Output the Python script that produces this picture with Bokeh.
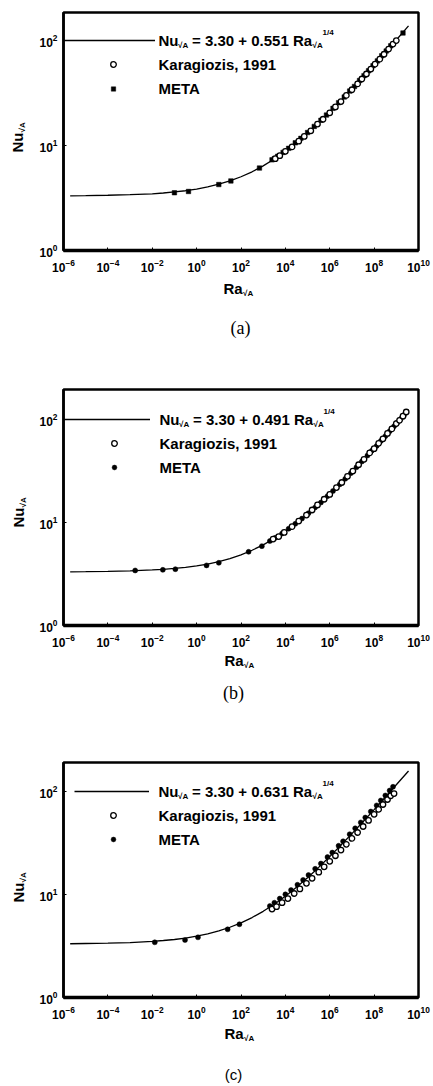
import math
from bokeh.plotting import figure
from bokeh.models import Range1d, FixedTicker, LogTickFormatter, Label, Legend, LegendItem
from bokeh.core.properties import value
from bokeh.layouts import column
from bokeh.embed import file_html
from bokeh.resources import INLINE

# ---------------- data ----------------
ra_ticks = [1e-6, 1e-4, 1e-2, 1e0, 1e2, 1e4, 1e6, 1e8, 1e10]
nu_ticks = [1, 10, 100]

curve_ra = [2e-6, 1e-5, 1e-4, 1e-3, 1e-2, 3.16e-2, 1e-1, 3.16e-1, 1.0, 3.16, 10, 31.6, 100, 316,
            1e3, 3.16e3, 1e4, 3.16e4, 1e5, 3.16e5, 1e6, 3.16e6, 1e7, 3.16e7, 1e8, 3.16e8, 1e9, 3.55e9]

# panel (a)  Nu = 3.30 + 0.551 Ra^1/4
a_curve_nu = [3.32, 3.33, 3.36, 3.40, 3.47, 3.53, 3.61, 3.71, 3.85, 4.04, 4.28, 4.61, 5.04, 5.62,
              6.40, 7.43, 8.81, 10.65, 13.10, 16.36, 20.72, 26.54, 34.28, 44.62, 58.40, 76.80, 101.3, 137.8]
a_kara_ra = [3.5e3, 5.6e3, 1.0e4, 2.0e4, 4.0e4, 7.1e4, 1.4e5, 2.8e5, 5.0e5, 1.0e6, 1.8e6, 3.2e6,
             5.6e6, 1.0e7, 1.8e7, 2.8e7, 4.5e7, 7.1e7, 1.1e8, 1.8e8, 2.8e8, 4.5e8, 7.1e8, 1.0e9]
a_kara_nu = [7.5, 8.0, 8.8, 9.7, 11.0, 12.2, 13.8, 16.0, 17.8, 20.5, 23.3, 26.2,
             30.0, 34.0, 38.6, 43.0, 48.0, 53.5, 59.5, 66.5, 74.0, 83.0, 92.5, 100.0]
a_meta_ra = [0.1, 0.43, 10, 35, 680,
             2.5e3, 3.2e3, 4.5e3, 7.9e3, 1.4e4, 2.8e4, 5.0e4, 1.0e5, 2.0e5, 4.0e5, 7.1e5, 1.4e6,
             2.5e6, 4.5e6, 7.9e6, 1.3e7, 2.2e7, 3.5e7, 5.6e7, 8.9e7, 1.4e8, 2.2e8, 3.5e8, 5.6e8, 2.0e9]
a_meta_nu = [3.55, 3.65, 4.25, 4.6, 6.1,
             7.3, 7.5, 7.9, 8.6, 9.4, 10.6, 11.7, 13.3, 15.2, 17.4, 19.5, 22.6,
             25.6, 29.0, 33.0, 36.5, 41.6, 46.3, 51.5, 57.5, 64.0, 71.5, 79.5, 89.0, 118.0]

# panel (b)  Nu = 3.30 + 0.491 Ra^1/4
b_curve_nu = [3.32, 3.33, 3.35, 3.39, 3.46, 3.51, 3.58, 3.67, 3.79, 3.95, 4.17, 4.46, 4.85, 5.37,
              6.06, 6.98, 8.21, 9.85, 12.03, 14.94, 18.83, 24.01, 30.91, 40.12, 52.40, 68.80, 90.6, 123.2]
b_kara_ra = [2.8e3, 5.0e3, 8.9e3, 2.0e4, 4.0e4, 8.9e4, 1.6e5, 2.8e5, 5.6e5, 1.0e6, 2.0e6, 3.5e6, 6.3e6,
             1.1e7, 2.0e7, 3.5e7, 6.3e7, 1.0e8, 1.6e8, 2.5e8, 4.0e8, 6.3e8, 1.0e9, 1.4e9, 2.0e9, 2.8e9]
b_kara_nu = [6.9, 7.3, 8.0, 9.1, 10.3, 11.8, 13.2, 14.8, 16.8, 18.7, 21.8, 24.4, 28.0,
             31.5, 36.3, 41.0, 47.3, 52.0, 58.6, 64.8, 73.0, 80.8, 91.0, 98.0, 107.5, 118.0]
b_meta_ra = [1.7e-3, 3.0e-2, 1.1e-1, 2.8, 10, 2.2e2, 8.7e2,
             2.0e3, 3.5e3, 7.1e3, 1.4e4, 2.8e4, 5.6e4, 1.1e5, 2.2e5, 4.0e5, 7.9e5, 1.4e6, 2.8e6, 5.0e6,
             8.9e6, 1.6e7, 2.8e7, 5.0e7, 7.9e7, 1.3e8, 2.0e8, 3.2e8, 5.0e8, 7.9e8, 1.1e9, 1.6e9, 2.2e9]
b_meta_nu = [3.42, 3.47, 3.52, 3.83, 4.06, 5.19, 5.89,
             6.6, 7.1, 7.8, 8.7, 9.7, 10.9, 12.3, 14.0, 15.6, 18.0, 20.2, 23.4, 26.5,
             30.1, 34.3, 39.0, 44.6, 49.7, 55.3, 61.7, 68.8, 76.8, 85.7, 93.2, 101.3, 110.1]

# panel (c)  Nu = 3.30 + 0.631 Ra^1/4
c_curve_nu = [3.32, 3.34, 3.36, 3.41, 3.50, 3.57, 3.65, 3.77, 3.93, 4.14, 4.42, 4.80, 5.30, 5.96,
              6.85, 8.03, 9.61, 11.72, 14.52, 18.26, 23.25, 29.91, 38.78, 50.62, 66.40, 87.47, 115.5, 157.3]
c_kara_ra = [2.5e3, 4.0e3, 7.1e3, 1.3e4, 2.5e4, 4.5e4, 8.9e4, 1.6e5, 3.2e5, 5.6e5, 1.0e6, 1.8e6,
             3.2e6, 5.6e6, 1.0e7, 1.8e7, 3.2e7, 5.6e7, 1.0e8, 1.6e8, 2.5e8, 4.0e8, 5.6e8, 7.9e8]
c_kara_nu = [7.2, 7.6, 8.3, 9.1, 10.2, 11.3, 12.8, 14.3, 16.4, 18.5, 20.9, 23.7,
             26.9, 30.6, 34.9, 39.8, 45.5, 52.1, 59.7, 66.7, 74.4, 83.2, 90.4, 95.0]
c_meta_ra = [1.3e-2, 0.30, 1.15, 25, 85,
             2.0e3, 3.2e3, 5.6e3, 1.0e4, 1.8e4, 3.5e4, 6.3e4, 1.1e5, 2.2e5, 4.0e5, 7.9e5, 1.3e6,
             2.5e6, 4.0e6, 7.9e6, 1.4e7, 2.5e7, 4.0e7, 7.1e7, 1.3e8, 2.0e8, 3.2e8, 5.0e8, 7.1e8]
c_meta_nu = [3.43, 3.61, 3.83, 4.58, 5.13,
             7.7, 8.3, 9.1, 10.0, 11.0, 12.4, 13.8, 15.4, 17.7, 19.9, 23.0, 25.4,
             29.6, 32.7, 38.3, 43.7, 49.9, 55.6, 63.6, 72.9, 81.4, 91.0, 101.6, 110.5]

coefs = ["0.551", "0.491", "0.631"]
captions = ["(a)", "(b)", "(c)"]
series_names = ["Karagiozis, 1991", "META"]

SANS = "Liberation Sans"


def make_panel(cfg):
    fh = cfg["frame_h"]
    p = figure(width=433, height=cfg["height"], x_axis_type="log", y_axis_type="log",
               x_range=Range1d(ra_ticks[0], ra_ticks[-1]), y_range=Range1d(nu_ticks[0], cfg["ymax"]),
               min_border_left=cfg["left"], min_border_right=cfg["right"],
               min_border_top=cfg["top"], min_border_bottom=cfg["height"] - cfg["top"] - fh,
               output_backend="svg", toolbar_location=None, title=None,
               background_fill_color="white", border_fill_color="white")
    p.grid.visible = False
    p.outline_line_color = "black"
    p.outline_line_width = 2.5

    for ax in (p.xaxis[0], p.yaxis[0]):
        ax.axis_line_color = "black"
        ax.major_tick_line_color = "black"
        ax.major_tick_in = 3
        ax.major_tick_out = 0
        ax.minor_tick_line_color = None
        ax.major_label_text_font = SANS
        ax.major_label_text_font_style = "bold"
        ax.major_label_text_font_size = "12px"
        ax.major_label_text_color = "black"
        ax.formatter = LogTickFormatter()
    p.xaxis[0].axis_line_width = 3.5
    p.yaxis[0].axis_line_width = 2.5
    p.xaxis[0].ticker = FixedTicker(ticks=ra_ticks)
    p.yaxis[0].ticker = FixedTicker(ticks=nu_ticks)
    p.xaxis[0].major_label_standoff = 8
    p.yaxis[0].major_label_standoff = 6

    curve = p.line(curve_ra, cfg["curve_nu"], line_color="black", line_width=1.3)
    meta = p.scatter(cfg["meta_ra"], cfg["meta_nu"], marker=cfg["meta_marker"], size=cfg["meta_size"],
                     fill_color="black", line_color="black", line_width=0.5)
    kara = p.scatter(cfg["kara_ra"], cfg["kara_nu"], marker="circle", size=5.5,
                     fill_color="white", line_color="black", line_width=1.3)

    # legend samples (one small legend per row, texts drawn separately)
    row0 = cfg["row0"]

    def sample(renderer, x_left, width, gh, row_center):
        lg = Legend(items=[LegendItem(label=" ", renderers=[renderer])],
                    location=(x_left, fh - row_center - gh / 2), glyph_width=width, glyph_height=gh,
                    label_height=gh, label_text_font_size="1px", label_standoff=0,
                    border_line_color=None, background_fill_alpha=0, padding=0, margin=0, spacing=0)
        p.add_layout(lg)

    sample(curve, cfg["line_x0"], cfg["line_w"], 20, row0)
    sample(kara, cfg["mk_c"] - 10, 20, 14, row0 + 24)
    sample(meta, cfg["mk_c"] - 10, 20, cfg["meta_gh"], row0 + 48)

    def lab(text, x, y, size, **kw):
        opts = dict(x=x, y=y, x_units="screen", y_units="screen", text=text, text_font=SANS,
                    text_font_style="bold", text_font_size=size, text_color="black",
                    text_align="left", text_baseline="middle")
        opts.update(kw)
        p.add_layout(Label(**opts))

    tx = cfg["text_x"]
    yr = fh - row0
    lab("Nu", tx, yr, "15px")
    lab("\u221aA", tx + 19.5, yr - 5, "8px")
    lab("= 3.30 + " + cfg["coef"] + " Ra", tx + 33.5, yr, "15px")
    lab("\u221aA", tx + 154, yr - 5, "8px")
    lab("1/4", tx + 164, yr + 8, "8px")
    lab(series_names[0], tx, yr - 24, "15px")
    lab(series_names[1], tx, yr - 48, "15px")

    # texts outside the frame: text glyphs anchored at the frame's lower-left corner,
    # drawn on the overlay level (offsets in pixels)
    def out_text(text, dx, dy, size, font=SANS, style="bold", align="left", angle=0.0):
        p.text(x=[ra_ticks[0]], y=[nu_ticks[0]], text=[text], x_offset=dx, y_offset=dy,
               angle=angle, text_font=value(font), text_font_style=style,
               text_font_size=size, text_color="black", text_align=align,
               text_baseline="middle", level="overlay")

    xl_x, xl_y = cfg["xl"]
    out_text("Ra", xl_x, xl_y, "15px")
    out_text("\u221aA", xl_x + 19.5, xl_y + 5, "8px")
    yl_x, yl_y = cfg["yl"]
    out_text("Nu", yl_x, -yl_y, "15px", angle=math.pi / 2)
    out_text("\u221aA", yl_x + 5, -(yl_y + 20), "8px", angle=math.pi / 2)
    cx, cy = cfg["cap"]
    out_text(cfg["caption"], cx, cy, cfg["cap_size"], font=cfg["cap_font"], style="normal", align="center")
    return p


cfgs = [
    dict(height=343, top=12, left=63, right=15, frame_h=238, ymax=185,
         curve_nu=a_curve_nu, kara_ra=a_kara_ra, kara_nu=a_kara_nu, meta_ra=a_meta_ra, meta_nu=a_meta_nu,
         meta_marker="square", meta_size=4.5, meta_gh=11, coef=coefs[0], caption=captions[0],
         row0=28, line_x0=0, line_w=92, text_x=95, mk_c=50,
         xl=(160, 38), yl=(-46, 98), cap=(177, 77), cap_size="18px", cap_font="Liberation Serif"),
    dict(height=370, top=46, left=61, right=15, frame_h=236, ymax=195,
         curve_nu=b_curve_nu, kara_ra=b_kara_ra, kara_nu=b_kara_nu, meta_ra=b_meta_ra, meta_nu=b_meta_nu,
         meta_marker="circle", meta_size=5, meta_gh=12, coef=coefs[1], caption=captions[1],
         row0=30, line_x0=0, line_w=87, text_x=96, mk_c=51,
         xl=(161, 35), yl=(-45, 98), cap=(170, 67), cap_size="18px", cap_font="Liberation Serif"),
    dict(height=373, top=49, left=62, right=13, frame_h=235, ymax=190,
         curve_nu=c_curve_nu, kara_ra=c_kara_ra, kara_nu=c_kara_nu, meta_ra=c_meta_ra, meta_nu=c_meta_nu,
         meta_marker="circle", meta_size=5, meta_gh=12, coef=coefs[2], caption=captions[2],
         row0=29, line_x0=11, line_w=75, text_x=95, mk_c=50,
         xl=(161, 36), yl=(-45, 95), cap=(170, 77), cap_size="15px", cap_font="Liberation Sans"),
]

panels = [make_panel(c) for c in cfgs]
layout = column(*panels, spacing=0)
open("out.html", "w").write(file_html(layout, INLINE))
